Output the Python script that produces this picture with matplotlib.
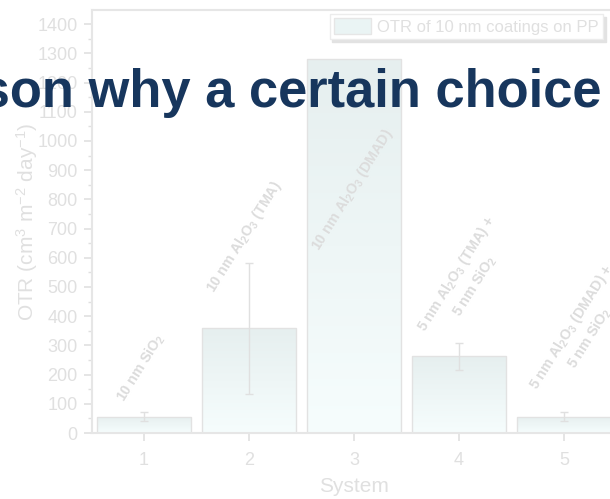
import numpy as np
import matplotlib
matplotlib.use("Agg")
import matplotlib.pyplot as plt
from matplotlib.colors import LinearSegmentedColormap

plt.rcParams['font.family'] = ['Liberation Sans', 'DejaVu Sans']
plt.rcParams['mathtext.fontset'] = 'custom'
plt.rcParams['mathtext.rm'] = 'Liberation Sans'
plt.rcParams['mathtext.it'] = 'Liberation Sans:italic'
plt.rcParams['mathtext.bf'] = 'Liberation Sans:bold'

# ---- data ----
systems = [1, 2, 3, 4, 5]
otr = [56, 358, 1279, 262, 56]
otr_err = [16, 225, 0, 47, 15]
bar_labels = [
    r'10 nm SiO$_\mathbf{2}$',
    r'10 nm Al$_\mathbf{2}$O$_\mathbf{3}$ (TMA)',
    r'10 nm Al$_\mathbf{2}$O$_\mathbf{3}$ (DMAD)',
    '5 nm Al$_\\mathbf{2}$O$_\\mathbf{3}$ (TMA) +\n5 nm SiO$_\\mathbf{2}$',
    '5 nm Al$_\\mathbf{2}$O$_\\mathbf{3}$ (DMAD) +\n5 nm SiO$_\\mathbf{2}$',
]
label_pos = [(0.97, 222), (1.96, 671), (2.99, 832), (4.06, 524), (5.16, 345)]
legend_label = 'OTR of 10 nm coatings on PP'
title_text = 'reason why a certain choice'

faint = '#e0e0e0'
W, H = 610, 499
fig = plt.figure(figsize=(W / 100, H / 100), dpi=100)
ax = fig.add_axes([91.5 / W, (H - 433) / H, 525 / W, 423.5 / H])

cmap = LinearSegmentedColormap.from_list('g', ['#f6fdfd', '#e6efef'])
grad = np.linspace(0, 1, 256).reshape(-1, 1)
bars = ax.bar(systems, otr, width=0.9, color='#eef6f6', edgecolor='#e2e2e2',
              linewidth=1.0, zorder=2, label=legend_label)
for b in bars:
    x0, y0 = b.get_x(), b.get_y()
    im = ax.imshow(grad, cmap=cmap, aspect='auto', origin='lower',
                   extent=[x0, x0 + b.get_width(), y0, y0 + b.get_height()],
                   zorder=2.1)
    im.set_clip_path(b)
    b.set_facecolor('none')
    b.set_zorder(2.2)

ex = [s for s, e in zip(systems, otr_err) if e > 0]
ey = [v for v, e in zip(otr, otr_err) if e > 0]
ee = [e for e in otr_err if e > 0]
ax.errorbar(ex, ey, yerr=ee, fmt='none', ecolor=faint, elinewidth=1.0,
            capsize=3, capthick=1.0, zorder=3)

for (lx, ly), t in zip(label_pos, bar_labels):
    ax.text(lx, ly, t, rotation=58, ha='center', va='center',
            rotation_mode='anchor', fontsize=10.3, fontweight='bold',
            color='#dcdcdc', multialignment='center', zorder=4,
            linespacing=1.3)

ax.set_xlim(0.5, 5.5)
ax.set_ylim(0, 1450)
ax.set_xticks(systems)
ax.set_yticks(np.arange(0, 1401, 100))
ax.set_yticks(np.arange(50, 1401, 100), minor=True)
ax.tick_params(axis='both', which='major', direction='out', length=6,
               width=1.2, color=faint, labelcolor=faint, labelsize=13, pad=4)
ax.tick_params(axis='y', which='minor', direction='out', length=3,
               width=1.0, color=faint)
ax.tick_params(axis='x', pad=8)
for sp in ax.spines.values():
    sp.set_color('#e6e6e6')
    sp.set_linewidth(1.5)

ax.set_xlabel('System', fontsize=15, color=faint)
ax.xaxis.set_label_coords(0.5, -0.105)
ax.set_ylabel(r'OTR (cm$^3$ m$^{-2}$ day$^{-1}$)', fontsize=15, color=faint,
              labelpad=-2)

leg = ax.legend(loc='upper right', bbox_to_anchor=(603 / W, (H - 14) / H),
                bbox_transform=fig.transFigure, frameon=True, fancybox=False,
                shadow={'color': '#e2e2e2', 'alpha': 1.0}, fontsize=12,
                handlelength=2.2, handleheight=1.1, borderpad=0.25,
                handletextpad=0.4, borderaxespad=0)
leg.get_frame().set_edgecolor('#ececec')
leg.get_frame().set_linewidth(1.0)
for t in leg.get_texts():
    t.set_color(faint)
for h in leg.legend_handles:
    h.set_facecolor('#eaf4f4')
    h.set_edgecolor('#e6e6e6')

fig.text(602 / W, (H - 107) / H, title_text, ha='right', va='baseline',
         fontsize=37.8, fontweight='bold', color='#17365d', zorder=10)

fig.savefig('out.png', dpi=100)
